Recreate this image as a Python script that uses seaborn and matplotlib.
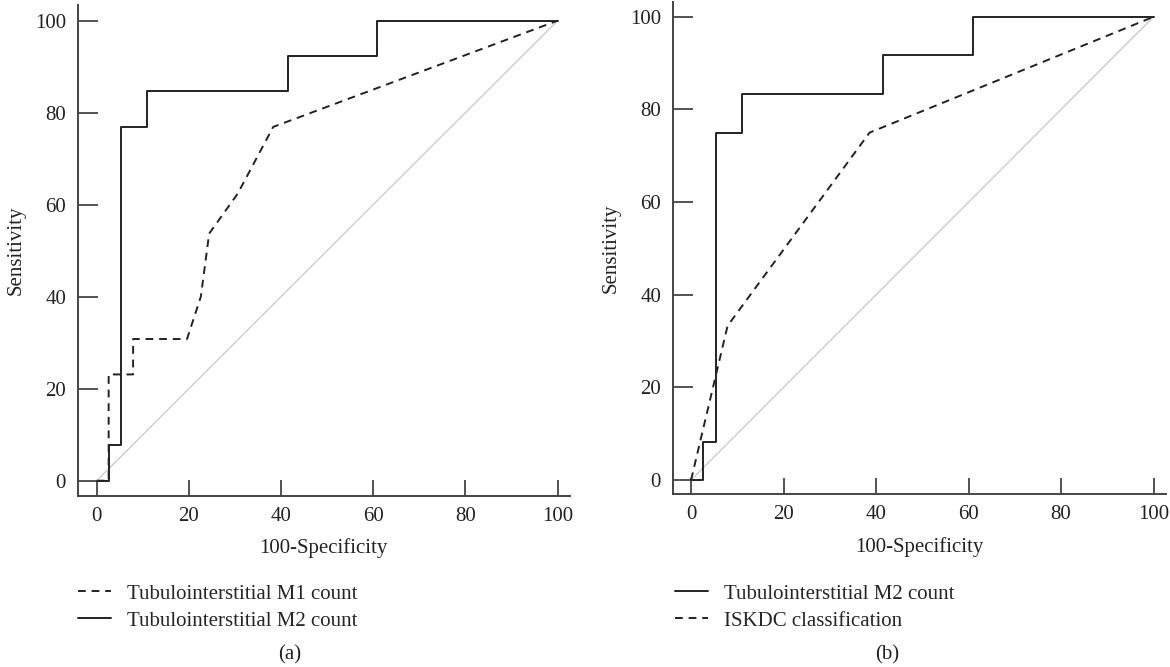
import numpy as np
import pandas as pd
import matplotlib
matplotlib.use("Agg")
import matplotlib.pyplot as plt
import seaborn as sns

# ==========================================
# Data: ROC curve vertices (100-Specificity, Sensitivity)
# ==========================================

# (a) Tubulointerstitial M1 count
a_m1_fpr = [0, 2.6, 2.6, 7.9, 7.9, 19.6, 22.6, 24.4, 30.6, 38.3, 100]
a_m1_tpr = [0, 0, 23.1, 23.1, 30.8, 30.8, 40.0, 53.7, 62.4, 76.9, 100]

# (a) Tubulointerstitial M2 count
a_m2_fpr = [0, 2.6, 2.6, 5.3, 5.3, 11.0, 11.0, 41.6, 41.6, 60.8, 60.8, 100]
a_m2_tpr = [0, 0, 7.7, 7.7, 76.9, 76.9, 84.6, 84.6, 92.3, 92.3, 100, 100]

# (b) Tubulointerstitial M2 count
b_m2_fpr = [0, 2.6, 2.6, 5.4, 5.4, 11.0, 11.0, 41.4, 41.4, 61.0, 61.0, 100]
b_m2_tpr = [0, 0, 8.3, 8.3, 75.0, 75.0, 83.3, 83.3, 91.7, 91.7, 100, 100]

# (b) ISKDC classification
b_iskdc_fpr = [0, 7.9, 38.6, 100]
b_iskdc_tpr = [0, 33.3, 75.0, 100]

# reference diagonal
ref_x = [0, 100]
ref_y = [0, 100]

ticks = [0, 20, 40, 60, 80, 100]

# ==========================================
# Style
# ==========================================
sns.set_style("ticks")
plt.rcParams['font.family'] = ['Liberation Serif', 'DejaVu Serif']
plt.rcParams['font.size'] = 15

Line_Color = "#222222"
Spine_Color = "#444444"
Dash = (0, (4, 3))

fig = plt.figure(figsize=(11.7, 6.67), dpi=100)
ax_a = fig.add_axes([0.0664, 0.2568, 0.4208, 0.7357])
ax_b = fig.add_axes([0.5750, 0.2589, 0.4216, 0.7381])


def draw_panel(ax, curves, xlim, ylim):
    # diagonal first, underneath
    sns.lineplot(x=ref_x, y=ref_y, ax=ax, color="#c8c8c8", lw=0.9,
                 estimator=None, sort=False, label="_nolegend_", legend=False)
    for fpr, tpr, lab, ls in curves:
        sns.lineplot(x=fpr, y=tpr, ax=ax, color=Line_Color, lw=1.4, linestyle=ls,
                     estimator=None, sort=False, label=lab, legend=False)

    ax.set_xlim(*xlim)
    ax.set_ylim(*ylim)
    ax.set_xticks(ticks)
    ax.set_yticks(ticks)
    ax.tick_params(axis='x', direction='in', length=11.3, width=1.3,
                   color=Spine_Color, pad=8, labelcolor="#222222")
    ax.tick_params(axis='y', direction='in', length=14.4, width=1.3,
                   color=Spine_Color, pad=8.4, labelcolor="#222222")
    sns.despine(ax=ax)
    for s in ["left", "bottom"]:
        ax.spines[s].set_color(Spine_Color)
        ax.spines[s].set_linewidth(1.4)
    ax.set_xlabel("100-Specificity", labelpad=9, color="#222222")
    ax.set_ylabel("Sensitivity", labelpad=7, color="#222222")


draw_panel(ax_a,
           [(a_m1_fpr, a_m1_tpr, "Tubulointerstitial M1 count", Dash),
            (a_m2_fpr, a_m2_tpr, "Tubulointerstitial M2 count", "-")],
           (-4.12, 102.7), (-3.26, 103.4))
draw_panel(ax_b,
           [(b_m2_fpr, b_m2_tpr, "Tubulointerstitial M2 count", "-"),
            (b_iskdc_fpr, b_iskdc_tpr, "ISKDC classification", Dash)],
           (-3.96, 102.7), (-3.09, 103.2))

# legends below the axes
for ax, x0 in [(ax_a, 78 / 1170), (ax_b, 675 / 1170)]:
    ax.legend(loc='upper left', bbox_to_anchor=(x0, 1 - 584 / 667),
              bbox_transform=fig.transFigure, frameon=False,
              borderpad=0, borderaxespad=0, handlelength=1.6,
              handletextpad=0.75, labelspacing=0.36, fontsize=15)

fig.text(290 / 1170, 1 - 655 / 667, "(a)", ha='center', va='center', color="#222222")
fig.text(887 / 1170, 1 - 655 / 667, "(b)", ha='center', va='center', color="#222222")

plt.savefig("out.png", dpi=100)
plt.close()
